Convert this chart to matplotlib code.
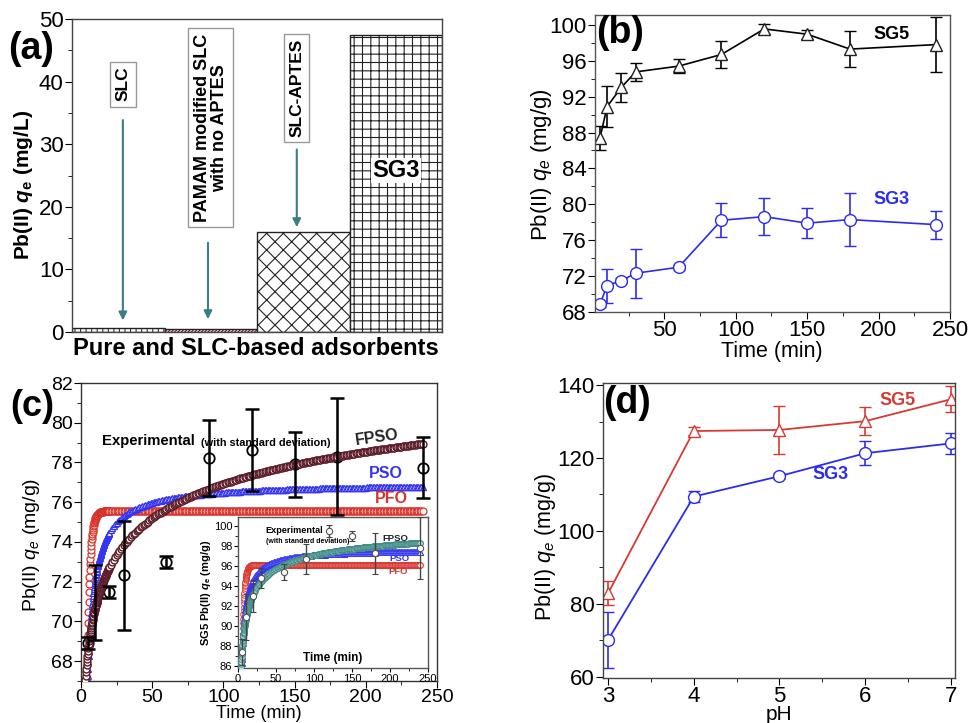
import numpy as np
import matplotlib
matplotlib.use("Agg")
import matplotlib.pyplot as plt
from matplotlib.ticker import MultipleLocator

plt.rcParams["font.family"] = ["Liberation Sans", "DejaVu Sans"]
plt.rcParams["mathtext.fontset"] = "custom"
plt.rcParams["mathtext.rm"] = "Liberation Sans"
plt.rcParams["mathtext.it"] = "Liberation Sans:italic"
plt.rcParams["mathtext.bf"] = "Liberation Sans:bold"
plt.rcParams["mathtext.bfit"] = "Liberation Sans:bold:italic"
plt.rcParams["hatch.linewidth"] = 0.8
plt.rcParams["axes.linewidth"] = 1.0

# ---------------- data ----------------
# (a) uptake by adsorbent
adsorbents = ["SLC", "PAMAM modified SLC\nwith no APTES", "SLC-APTES", "SG3"]
uptake_a = [0.6, 0.45, 15.9, 47.5]

# (b)/(c) contact time experiments
time_min = [5, 10, 20, 30, 60, 90, 120, 150, 180, 240]
sg5_qe = [87.4, 90.9, 93.05, 94.76, 95.4, 96.7, 99.55, 98.96, 97.3, 97.8]
sg5_err = [1.3, 2.3, 1.6, 1.0, 0.8, 1.5, 0.6, 0.5, 2.05, 3.1]
sg3_qe = [68.9, 70.94, 71.5, 72.32, 72.99, 78.22, 78.63, 77.9, 78.3, 77.74]
sg3_err = [0.3, 1.9, 0.3, 2.75, 0.3, 1.9, 2.05, 1.65, 2.95, 1.55]

# kinetic model parameters (qe in mg/g)
pfo_sg3 = {"qe": 75.55, "k1": 0.53}
pso_sg3 = {"qe": 77.0, "k2": 0.0191}
fpso_sg3 = {"qe": 95.0, "k": 0.02095, "alpha": 0.165}
pfo_sg5 = {"qe": 96.1, "k1": 0.418}
pso_sg5 = {"qe": 97.7, "k2": 0.01576}
fpso_sg5 = {"qe": 101.0, "k": 0.0303, "alpha": 0.454}

# (d) pH experiments
ph = [3, 4, 5, 6, 7]
sg5_ph = [82.9, 127.4, 127.7, 130.1, 136.1]
sg5_ph_err = [3.3, 1.2, 6.5, 3.9, 3.6]
sg3_ph = [70.1, 109.4, 115.0, 121.3, 124.0]
sg3_ph_err = [7.7, 1.6, 0.8, 3.3, 2.85]


def pfo(t, p):
    return p["qe"] * (1 - np.exp(-p["k1"] * t))


def pso(t, p):
    return p["qe"] ** 2 * p["k2"] * t / (1 + p["qe"] * p["k2"] * t)


def fpso(t, p):
    u = p["qe"] * p["k"] * t ** p["alpha"]
    return p["qe"] * u / (1 + u)


t_model = np.concatenate([np.arange(0.5, 20, 0.2), np.arange(20, 240.5, 1.0)])

W, H = 968, 723
fig = plt.figure(figsize=(W / 100, H / 100), dpi=100)


def box(l, t, r, b):
    return [l / W, (H - b) / H, (r - l) / W, (b - t) / H]


def ftext(x, y, s, **kw):
    fig.text(x / W, 1 - y / H, s, **kw)


BLUE = "#2c2cee"
RED = "#d63a32"
C_PFO = "#d8332b"
C_PSO = "#3434f2"
C_FPSO = "#5c1c28"

# ---------------- (a) ----------------
axa = fig.add_axes(box(72, 19, 442, 332))
xa = np.arange(len(adsorbents))
hatches = ["|||", "//////////", "xx", "++"]
hcolors = ["#333333", "#6a1025", "#222222", "#222222"]
for i in range(len(adsorbents)):
    axa.bar(xa[i], uptake_a[i], width=1.0, color="white", hatch=hatches[i],
            edgecolor=hcolors[i], linewidth=0)
    axa.bar(xa[i], uptake_a[i], width=1.0, fill=False, edgecolor="#222222", linewidth=1.0)
axa.set_xlim(-0.5, 3.5)
axa.set_ylim(0, 50)
axa.set_xticks([])
axa.yaxis.set_major_locator(MultipleLocator(10))
axa.yaxis.set_minor_locator(MultipleLocator(5))
axa.tick_params(axis="y", which="both", direction="out", labelsize=16, pad=1)
axa.tick_params(axis="y", which="major", length=5)
axa.tick_params(axis="y", which="minor", length=3)
for s in axa.spines.values():
    s.set_color("#444444")

TEAL = "#3d7f80"
bbox_a = dict(boxstyle="square,pad=0.3", facecolor="white", edgecolor="#999999", linewidth=1)
axa.text(0.05, 39.6, adsorbents[0], rotation=90, ha="center", va="center",
         fontsize=12.5, fontweight="bold", bbox=bbox_a)
axa.text(1.0, 32.6, adsorbents[1], rotation=90, ha="center", va="center",
         fontsize=13, fontweight="bold", bbox=bbox_a, linespacing=1.0)
axa.text(1.93, 39.0, adsorbents[2], rotation=90, ha="center", va="center",
         fontsize=12.5, fontweight="bold", bbox=bbox_a)
arrow_kw = dict(arrowstyle="-|>", color=TEAL, lw=1.5, mutation_scale=12)
axa.annotate("", xy=(0.05, 1.4), xytext=(0.05, 34.3), arrowprops=arrow_kw)
axa.annotate("", xy=(0.97, 1.6), xytext=(0.97, 14.7), arrowprops=arrow_kw)
axa.annotate("", xy=(1.93, 16.3), xytext=(1.93, 29.6), arrowprops=arrow_kw)
axa.text(3.0, 25.8, adsorbents[3], ha="center", va="center", fontsize=17,
         fontweight="bold", bbox=dict(boxstyle="square,pad=0.05", facecolor="white", edgecolor="none"))

ftext(31, 49, "(a)", fontsize=27, fontweight="bold", ha="center", va="center")
ftext(24, 185, r"Pb(II) $\mathbfit{q}_\mathbf{e}$ (mg/L)", rotation=90, fontsize=15,
      fontweight="bold", ha="center", va="center")
ftext(256, 348, "Pure and SLC-based adsorbents", fontsize=17, fontweight="bold",
      ha="center", va="center")

# ---------------- (b) ----------------
axb = fig.add_axes(box(595, 15, 950, 312))
axb.errorbar(time_min, sg5_qe, yerr=sg5_err, color="black", marker="^", ms=9,
             mfc="white", mec="#222222", mew=1, lw=1.2, capsize=4.5, elinewidth=1.2)
axb.errorbar(time_min, sg3_qe, yerr=sg3_err, color=BLUE, marker="o", ms=8.5,
             mfc="white", mec=BLUE, mew=1, lw=1.2, capsize=4.5, elinewidth=1.2)
axb.set_xlim(1.5, 250)
axb.set_ylim(68, 101.1)
axb.xaxis.set_major_locator(MultipleLocator(50))
axb.xaxis.set_minor_locator(MultipleLocator(25))
axb.yaxis.set_major_locator(MultipleLocator(4))
axb.yaxis.set_minor_locator(MultipleLocator(2))
axb.tick_params(which="both", direction="out", labelsize=16, pad=1)
axb.tick_params(which="major", length=5)
axb.tick_params(which="minor", length=3)
for s in axb.spines.values():
    s.set_color("#555555")
axb.text(209, 98.9, "SG5", color="black", fontsize=13, fontweight="bold", ha="center", va="center")
axb.text(209, 80.5, "SG3", color=BLUE, fontsize=13, fontweight="bold", ha="center", va="center")
ftext(620, 33, "(b)", fontsize=27, fontweight="bold", ha="center", va="center")
ftext(542, 165, r"Pb(II) $q_e$ (mg/g)", rotation=90, fontsize=16, ha="center", va="center")
ftext(772, 351, "Time (min)", fontsize=15.5, ha="center", va="center")

# ---------------- (c) ----------------
axc = fig.add_axes(box(81, 383, 437, 681))
axc.plot(t_model, pfo(t_model, pfo_sg3), ls="none", marker="o", ms=5, mfc="white",
         mec=C_PFO, mew=0.9, zorder=2)
axc.plot(t_model, pso(t_model, pso_sg3), ls="none", marker="^", ms=5, mfc="white",
         mec=C_PSO, mew=0.9, zorder=3)
axc.plot(t_model, fpso(t_model, fpso_sg3), ls="none", marker="o", ms=5, mfc="white",
         mec=C_FPSO, mew=1.0, zorder=4)
axc.plot(time_min, sg3_qe, ls="none", marker="o", ms=7.5, mfc="white", mec="black",
         mew=1.3, zorder=1.5)
axc.errorbar(time_min, sg3_qe, yerr=sg3_err, fmt="none", ecolor="black",
             elinewidth=1.8, capsize=5, capthick=1.8, zorder=5)
axc.set_xlim(0, 250)
axc.set_ylim(67, 82)
axc.xaxis.set_major_locator(MultipleLocator(50))
axc.xaxis.set_minor_locator(MultipleLocator(25))
axc.yaxis.set_major_locator(MultipleLocator(2))
axc.yaxis.set_minor_locator(MultipleLocator(1))
axc.tick_params(which="both", direction="out", labelsize=14, pad=1)
axc.tick_params(which="major", length=5)
axc.tick_params(which="minor", length=3)
for s in axc.spines.values():
    s.set_color("#333333")
axc.text(14.7, 79.1, "Experimental", fontsize=10.7, fontweight="bold", ha="left", va="center", zorder=6)
axc.text(84.5, 79.0, "(with standard deviation)", fontsize=7.8, fontweight="bold",
         ha="left", va="center", zorder=6)
axc.text(208, 79.25, "FPSO", fontsize=11.5, fontweight="bold", color="#222222",
         ha="center", va="center", rotation=8, zorder=6)
axc.text(214, 77.42, "PSO", fontsize=11.5, fontweight="bold", color=C_PSO,
         ha="center", va="center", zorder=6)
axc.text(218, 76.2, "PFO", fontsize=11.5, fontweight="bold", color=C_PFO,
         ha="center", va="center", zorder=6)
ftext(32, 406, "(c)", fontsize=26, fontweight="bold", ha="center", va="center")
ftext(32, 545, r"Pb(II) $q_e$ (mg/g)", rotation=90, fontsize=14, ha="center", va="center")
ftext(259, 713, "Time (min)", fontsize=13, ha="center", va="center")

# inset for SG5
axi = fig.add_axes(box(238, 517, 428, 668))
axi.set_facecolor("white")
axi.plot(t_model, pfo(t_model, pfo_sg5), ls="none", marker="o", ms=4, mfc="white",
         mec=C_PFO, mew=0.7, zorder=2)
axi.plot(t_model, pso(t_model, pso_sg5), ls="none", marker="^", ms=4, mfc="white",
         mec=C_PSO, mew=0.7, zorder=3)
axi.plot(t_model, fpso(t_model, fpso_sg5), ls="none", marker="o", ms=4, mfc="#cfe6e2",
         mec="#3e8a84", mew=0.7, zorder=4)
axi.errorbar(time_min, sg5_qe, yerr=sg5_err, fmt="o", ms=4.5, mfc="white", mec="#555555",
             mew=0.8, ecolor="#444444", elinewidth=1.0, capsize=2.5, zorder=5)
axi.set_xlim(0, 250)
axi.set_ylim(85.8, 100.9)
axi.xaxis.set_major_locator(MultipleLocator(50))
axi.xaxis.set_minor_locator(MultipleLocator(25))
axi.yaxis.set_major_locator(MultipleLocator(2))
axi.yaxis.set_minor_locator(MultipleLocator(1))
axi.tick_params(which="both", direction="out", labelsize=8, pad=1)
axi.tick_params(which="major", length=3)
axi.tick_params(which="minor", length=2)
for s in axi.spines.values():
    s.set_color("#555555")
axi.set_ylabel(r"SG5 Pb(II) $\mathbfit{q}_\mathbf{e}$ (mg/g)", fontsize=8,
               fontweight="bold", labelpad=1)
axi.text(125, 86.8, "Time (min)", fontsize=8.5, fontweight="bold", ha="center", va="center")
axi.text(36.5, 99.53, "Experimental", fontsize=6.6, fontweight="bold", ha="left", va="center", zorder=6)
axi.text(36.5, 98.43, "(with standard deviation)", fontsize=5, fontweight="bold",
         ha="left", va="center", zorder=6)
axi.text(207, 98.7, "FPSO", fontsize=6.8, fontweight="bold", color="#222222",
         ha="center", va="center", zorder=6)
axi.text(213, 96.75, "PSO", fontsize=6.8, fontweight="bold", color=C_PSO,
         ha="center", va="center", zorder=6)
axi.text(211, 95.45, "PFO", fontsize=6.8, fontweight="bold", color=C_PFO,
         ha="center", va="center", zorder=6)

# ---------------- (d) ----------------
axd = fig.add_axes(box(603, 383.3, 955, 677.7))
axd.errorbar(ph, sg5_ph, yerr=sg5_ph_err, color=RED, marker="^", ms=9, mfc="white",
             mec=RED, mew=1, lw=1.3, capsize=4.5, elinewidth=1.2)
axd.errorbar(ph, sg3_ph, yerr=sg3_ph_err, color=BLUE, marker="o", ms=8.5, mfc="white",
             mec=BLUE, mew=1, lw=1.3, capsize=4.5, elinewidth=1.2)
axd.set_xlim(2.94, 7.05)
axd.set_ylim(59.7, 140.5)
axd.xaxis.set_major_locator(MultipleLocator(1))
axd.xaxis.set_minor_locator(MultipleLocator(0.5))
axd.yaxis.set_major_locator(MultipleLocator(20))
axd.yaxis.set_minor_locator(MultipleLocator(10))
axd.tick_params(which="both", direction="out", labelsize=16, pad=1)
axd.tick_params(which="major", length=5)
axd.tick_params(which="minor", length=3)
for s in axd.spines.values():
    s.set_color("#444444")
axd.text(6.38, 135.7, "SG5", color=RED, fontsize=13, fontweight="bold", ha="center", va="center")
axd.text(5.60, 115.35, "SG3", color=BLUE, fontsize=13, fontweight="bold", ha="center", va="center")
ftext(627, 403, "(d)", fontsize=27, fontweight="bold", ha="center", va="center")
ftext(546, 547, r"Pb(II) $q_e$ (mg/g)", rotation=90, fontsize=15.5, ha="center", va="center")
ftext(779, 715, "pH", fontsize=15, ha="center", va="center")

fig.savefig("out.png", dpi=100)
